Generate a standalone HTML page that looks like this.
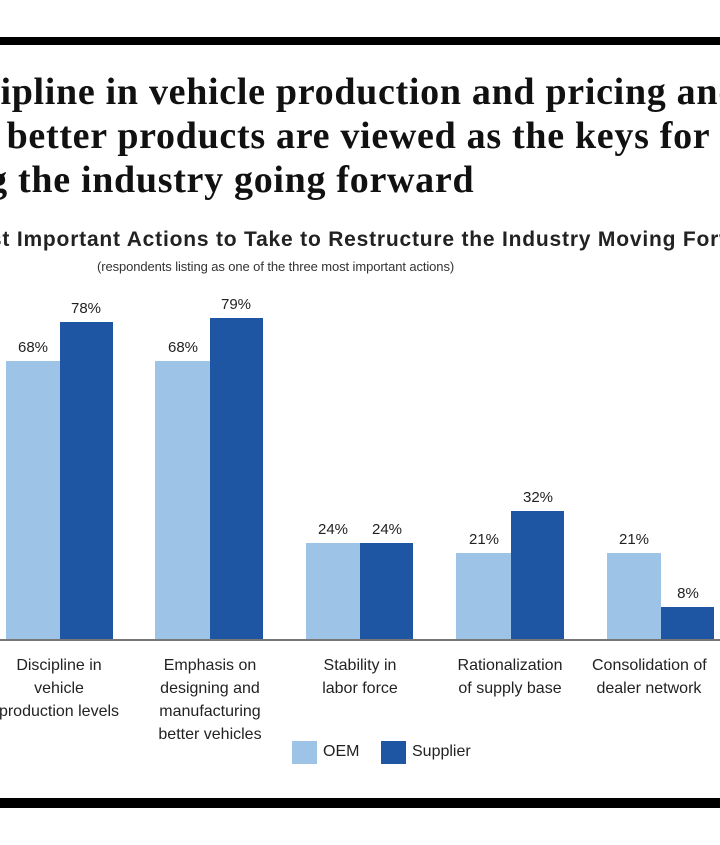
<!DOCTYPE html>
<html><head><meta charset="utf-8"><style>
body{margin:0;width:720px;height:845px;background:#fff;position:relative;overflow:hidden;font-family:"Liberation Sans",Arial,sans-serif}
.a{position:absolute;white-space:nowrap}
.t{font-family:"Liberation Serif",serif;font-weight:bold;font-size:38px;letter-spacing:0.7px;color:#111}
.b{position:absolute}
.o{background:#9dc3e6}.s{background:#1f56a3}
.v{position:absolute;font-size:15px;color:#222;width:60px;text-align:center}
.c{position:absolute;font-size:16px;color:#222;text-align:center;width:150px;line-height:23px;white-space:nowrap}
</style></head><body>
<div class="b" style="left:0;top:37px;width:720px;height:8px;background:#000"></div>
<div class="b" style="left:0;top:798px;width:720px;height:10px;background:#000"></div>
<div class="a t" style="left:-72px;top:70px">Discipline in vehicle production and pricing and</div>
<div class="a t" style="left:-67px;top:114px">and better products are viewed as the keys for</div>
<div class="a t" style="left:-218px;top:158px">restructuring the industry going forward</div>
<div class="a" style="left:-42px;top:228px;font-size:21px;letter-spacing:0.8px;font-weight:bold;color:#222">Most Important Actions to Take to Restructure the Industry Moving Forward</div>
<div class="a" style="left:97px;top:259px;font-size:13px;letter-spacing:-0.1px;color:#333">(respondents listing as one of the three most important actions)</div>
<div class="b" style="left:0;top:639px;width:720px;height:2px;background:#777"></div>

<div class="b o" style="left:6px;top:361px;width:54px;height:278px"></div>
<div class="b s" style="left:60px;top:322px;width:53px;height:317px"></div>
<div class="b o" style="left:155px;top:361px;width:55px;height:278px"></div>
<div class="b s" style="left:210px;top:318px;width:53px;height:321px"></div>
<div class="b o" style="left:306px;top:543px;width:54px;height:96px"></div>
<div class="b s" style="left:360px;top:543px;width:53px;height:96px"></div>
<div class="b o" style="left:456px;top:553px;width:55px;height:86px"></div>
<div class="b s" style="left:511px;top:511px;width:53px;height:128px"></div>
<div class="b o" style="left:607px;top:553px;width:54px;height:86px"></div>
<div class="b s" style="left:661px;top:607px;width:53px;height:32px"></div>

<div class="v" style="left:3px;top:339px">68%</div>
<div class="v" style="left:56px;top:300px">78%</div>
<div class="v" style="left:153px;top:339px">68%</div>
<div class="v" style="left:206px;top:296px">79%</div>
<div class="v" style="left:303px;top:521px">24%</div>
<div class="v" style="left:357px;top:521px">24%</div>
<div class="v" style="left:454px;top:531px">21%</div>
<div class="v" style="left:508px;top:489px">32%</div>
<div class="v" style="left:604px;top:531px">21%</div>
<div class="v" style="left:658px;top:585px">8%</div>

<div class="c" style="left:-16px;top:654px">Discipline in<br>vehicle<br>production levels</div>
<div class="c" style="left:135px;top:654px">Emphasis on<br>designing and<br>manufacturing<br>better vehicles</div>
<div class="c" style="left:285px;top:654px">Stability in<br>labor force</div>
<div class="c" style="left:435px;top:654px">Rationalization<br>of supply base</div>
<div class="c" style="left:592px;top:654px;text-align:left;width:200px">Consolidation of<br>&nbsp;dealer network</div>

<div class="b o" style="left:292px;top:741px;width:25px;height:23px"></div>
<div class="a" style="left:323px;top:743px;font-size:16px;color:#222">OEM</div>
<div class="b s" style="left:381px;top:741px;width:25px;height:23px"></div>
<div class="a" style="left:412px;top:743px;font-size:16px;color:#222">Supplier</div>
</body></html>
